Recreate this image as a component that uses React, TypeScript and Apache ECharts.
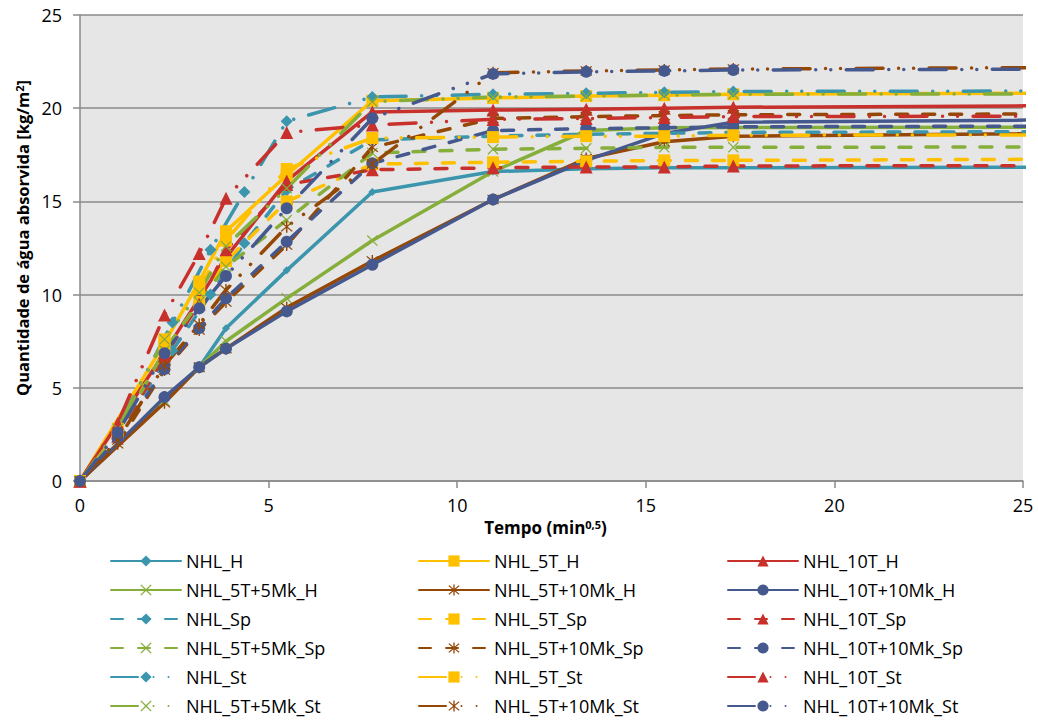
import React, { useEffect, useRef } from "react";
import * as echarts from "echarts";

// time points (min^0.5)
const T_H = [0, 2.24, 3.16, 3.87, 5.48, 7.75, 10.95, 13.42, 15.49, 17.32, 37.95];
const T_S = [0, 1, 2.24, 3.16, 3.87, 5.48, 7.75, 10.95, 13.42, 15.49, 17.32, 37.95];
const T_NHL = [0, 1, 2.45, 3.46, 4.36, 5.48, 7.75, 10.95, 13.42, 15.49, 17.32, 37.95];

// H series
const NHL_H = [0, 4.4, 6.1, 8.2, 11.3, 15.5, 16.6, 16.75, 16.8, 16.8, 16.9];
const NHL_5T_H = [0, 7.4, 10.7, 13.4, 16.4, 20.4, 20.55, 20.65, 20.7, 20.75, 20.9];
const NHL_10T_H = [0, 6.9, 9.8, 12.0, 16.1, 19.8, 19.9, 19.95, 20.0, 20.05, 20.25];
const NHL_5T5Mk_H = [0, 4.3, 6.1, 7.5, 9.8, 12.9, 16.6, 18.8, 18.95, 18.97, 19.0];
const NHL_5T10Mk_H = [0, 4.2, 6.1, 7.1, 9.3, 11.8, 15.1, 17.3, 18.2, 18.5, 18.85];
const NHL_10T10Mk_H = [0, 4.5, 6.1, 7.1, 9.1, 11.6, 15.1, 17.2, 18.65, 19.25, 19.55];

// Sp series
const NHL_Sp = [0, 2.6, 7.0, 10.0, 12.75, 15.6, 18.3, 18.5, 18.6, 18.65, 18.7, 18.8];
const NHL_5T_Sp = [0, 2.6, 7.0, 9.6, 11.8, 15.0, 17.0, 17.1, 17.15, 17.2, 17.2, 17.35];
const NHL_10T_Sp = [0, 2.4, 6.7, 9.5, 12.4, 15.9, 16.7, 16.8, 16.85, 16.85, 16.9, 16.95];
const NHL_5T5Mk_Sp = [0, 2.5, 7.0, 9.6, 11.5, 14.0, 17.6, 17.8, 17.85, 17.9, 17.9, 17.95];
const NHL_5T10Mk_Sp = [0, 2.0, 5.95, 8.1, 9.6, 12.66, 17.9, 19.45, 19.55, 19.6, 19.65, 19.75];
const NHL_10T10Mk_Sp = [0, 2.3, 6.0, 8.2, 9.8, 12.84, 17.04, 18.8, 18.9, 18.95, 19.0, 19.1];

// St series
const NHL_St = [0, 2.9, 8.5, 12.4, 15.5, 19.3, 20.6, 20.75, 20.8, 20.85, 20.9, 20.95];
const NHL_5T_St = [0, 2.8, 7.6, 10.3, 12.9, 16.74, 18.4, 18.45, 18.5, 18.5, 18.55, 18.6];
const NHL_10T_St = [0, 3.1, 8.9, 12.2, 15.17, 18.7, 19.1, 19.4, 19.45, 19.5, 19.55, 19.6];
const NHL_5T5Mk_St = [0, 2.8, 7.6, 10.1, 12.6, 15.7, 20.35, 20.6, 20.65, 20.7, 20.75, 20.8];
const NHL_5T10Mk_St = [0, 2.2, 6.2, 8.4, 10.25, 13.64, 17.0, 21.9, 22.0, 22.05, 22.1, 22.3];
const NHL_10T10Mk_St = [0, 2.6, 6.85, 9.26, 11.0, 14.63, 19.46, 21.84, 21.95, 22.0, 22.05, 22.15];

const X_TICKS = [0, 5, 10, 15, 20, 25];
const Y_TICKS = [0, 5, 10, 15, 20, 25];

const TEAL = "#3A95AD";
const YELLOW = "#FFC000";
const RED = "#C8302C";
const GREEN = "#86AE3A";
const BROWN = "#954706";
const BLUE = "#46598F";

const X_SYM = "path://M0,0.8L0.8,0L5,4.2L9.2,0L10,0.8L5.8,5L10,9.2L9.2,10L5,5.8L0.8,10L0,9.2L4.2,5Z";
const STAR_SYM =
  "path://M0,1.8L0.8,1L5,5.2L9.2,1L10,1.8L5.8,6L10,10.2L9.2,11L5,6.8L0.8,11L0,10.2L4.2,6Z M4.4,0L5.6,0L5.6,12L4.4,12Z";

const SP_DASH = [12, 15];
const ST_DASH = [27, 15.5, 0.01, 15, 0.01, 15.5];

const FONT = "Open Sans";

type Def = { name: string; xs: number[]; ys: number[]; color: string; symbol: string; size: number; dash: any };

const DEFS: Def[] = [
  { name: "NHL_H", xs: T_H, ys: NHL_H, color: TEAL, symbol: "diamond", size: 8, dash: "solid" },
  { name: "NHL_5T_H", xs: T_H, ys: NHL_5T_H, color: YELLOW, symbol: "rect", size: 12, dash: "solid" },
  { name: "NHL_10T_H", xs: T_H, ys: NHL_10T_H, color: RED, symbol: "triangle", size: 13, dash: "solid" },
  { name: "NHL_5T+5Mk_H", xs: T_H, ys: NHL_5T5Mk_H, color: GREEN, symbol: X_SYM, size: 11, dash: "solid" },
  { name: "NHL_5T+10Mk_H", xs: T_H, ys: NHL_5T10Mk_H, color: BROWN, symbol: STAR_SYM, size: 12, dash: "solid" },
  { name: "NHL_10T+10Mk_H", xs: T_H, ys: NHL_10T10Mk_H, color: BLUE, symbol: "circle", size: 12, dash: "solid" },
  { name: "NHL_Sp", xs: T_NHL, ys: NHL_Sp, color: TEAL, symbol: "diamond", size: 12, dash: SP_DASH },
  { name: "NHL_5T_Sp", xs: T_S, ys: NHL_5T_Sp, color: YELLOW, symbol: "rect", size: 12, dash: SP_DASH },
  { name: "NHL_10T_Sp", xs: T_S, ys: NHL_10T_Sp, color: RED, symbol: "triangle", size: 13, dash: SP_DASH },
  { name: "NHL_5T+5Mk_Sp", xs: T_S, ys: NHL_5T5Mk_Sp, color: GREEN, symbol: X_SYM, size: 11, dash: SP_DASH },
  { name: "NHL_5T+10Mk_Sp", xs: T_S, ys: NHL_5T10Mk_Sp, color: BROWN, symbol: STAR_SYM, size: 12, dash: SP_DASH },
  { name: "NHL_10T+10Mk_Sp", xs: T_S, ys: NHL_10T10Mk_Sp, color: BLUE, symbol: "circle", size: 12, dash: SP_DASH },
  { name: "NHL_St", xs: T_NHL, ys: NHL_St, color: TEAL, symbol: "diamond", size: 12, dash: ST_DASH },
  { name: "NHL_5T_St", xs: T_S, ys: NHL_5T_St, color: YELLOW, symbol: "rect", size: 12, dash: ST_DASH },
  { name: "NHL_10T_St", xs: T_S, ys: NHL_10T_St, color: RED, symbol: "triangle", size: 13, dash: ST_DASH },
  { name: "NHL_5T+5Mk_St", xs: T_S, ys: NHL_5T5Mk_St, color: GREEN, symbol: X_SYM, size: 11, dash: ST_DASH },
  { name: "NHL_5T+10Mk_St", xs: T_S, ys: NHL_5T10Mk_St, color: BROWN, symbol: STAR_SYM, size: 12, dash: ST_DASH },
  { name: "NHL_10T+10Mk_St", xs: T_S, ys: NHL_10T10Mk_St, color: BLUE, symbol: "circle", size: 12, dash: ST_DASH },
];

const COL1 = [0, 3, 6, 9, 12, 15].map((i) => DEFS[i].name);
const COL2 = [1, 4, 7, 10, 13, 16].map((i) => DEFS[i].name);
const COL3 = [2, 5, 8, 11, 14, 17].map((i) => DEFS[i].name);

export default function App() {
  const ref = useRef<HTMLDivElement>(null);
  useEffect(() => {
    if (!ref.current) return;
    const chart = echarts.init(ref.current, undefined, { renderer: "svg" });
    const legendBase = {
      orient: "vertical",
      top: 552,
      height: 168,
      padding: 0,
      itemWidth: 70,
      itemHeight: 14,
      itemGap: 11,
      selectedMode: false,
      textStyle: { fontFamily: FONT, fontSize: 18, color: "#000", lineHeight: 18 },
    };
    chart.setOption({
      animation: false,
      backgroundColor: "#ffffff",
      grid: {
        left: 80,
        top: 15,
        right: 15,
        bottom: 241,
        show: true,
        backgroundColor: "#e6e6e6",
        borderWidth: 0,
      },
      xAxis: {
        type: "value",
        min: X_TICKS[0],
        max: X_TICKS[X_TICKS.length - 1],
        interval: 5,
        name: "Tempo (min{sup|0,5})",
        nameLocation: "middle",
        nameGap: 32,
        nameTextStyle: {
          fontFamily: FONT,
          fontWeight: "bold",
          fontSize: 17,
          color: "#000",
          padding: [0, 12, 0, 0],
          rich: { sup: { fontFamily: FONT, fontWeight: "bold", fontSize: 11, verticalAlign: "top", color: "#000" } },
        },
        axisLine: { show: true, lineStyle: { color: "#8a8a8a", width: 1.5 } },
        axisTick: { show: true, length: 7, lineStyle: { color: "#8a8a8a", width: 1.5 } },
        axisLabel: { fontFamily: FONT, fontSize: 18, color: "#000", margin: 15 },
        splitLine: { show: false },
      },
      yAxis: {
        type: "value",
        min: Y_TICKS[0],
        max: Y_TICKS[Y_TICKS.length - 1],
        interval: 5,
        name: "Quantidade de água absorvida [kg/m{sup|2}]",
        nameLocation: "middle",
        nameGap: 46,
        nameTextStyle: {
          fontFamily: FONT,
          fontWeight: "bold",
          fontSize: 16.5,
          color: "#000",
          padding: [0, 0, 0, 20],
          rich: { sup: { fontFamily: FONT, fontWeight: "bold", fontSize: 11, verticalAlign: "top", color: "#000" } },
        },
        axisLine: { show: true, lineStyle: { color: "#8a8a8a", width: 1.5 } },
        axisTick: { show: true, length: 7, lineStyle: { color: "#8a8a8a", width: 1.5 } },
        axisLabel: { fontFamily: FONT, fontSize: 18, color: "#000", margin: 18 },
        splitLine: { show: true, lineStyle: { color: "#8a8a8a", width: 1.5 } },
      },
      legend: [
        { ...legendBase, left: 110, data: COL1 },
        { ...legendBase, left: 418, data: COL2 },
        { ...legendBase, left: 727, data: COL3 },
      ],
      series: DEFS.map((d) => ({
        name: d.name,
        type: "line",
        data: d.xs.map((x, i) => [x, d.ys[i]]),
        symbol: d.symbol,
        symbolSize: d.size,
        showSymbol: true,
        clip: true,
        itemStyle: { color: d.color, borderWidth: 0 },
        lineStyle: { color: d.color, width: 3.5, type: d.dash, cap: "round", join: "round" },
        emphasis: { disabled: true },
      })),
    });
    return () => chart.dispose();
  }, []);
  return (
    <div
      ref={ref}
      style={{ position: "fixed", left: 0, top: 0, width: 1038, height: 722 }}
    />
  );
}
